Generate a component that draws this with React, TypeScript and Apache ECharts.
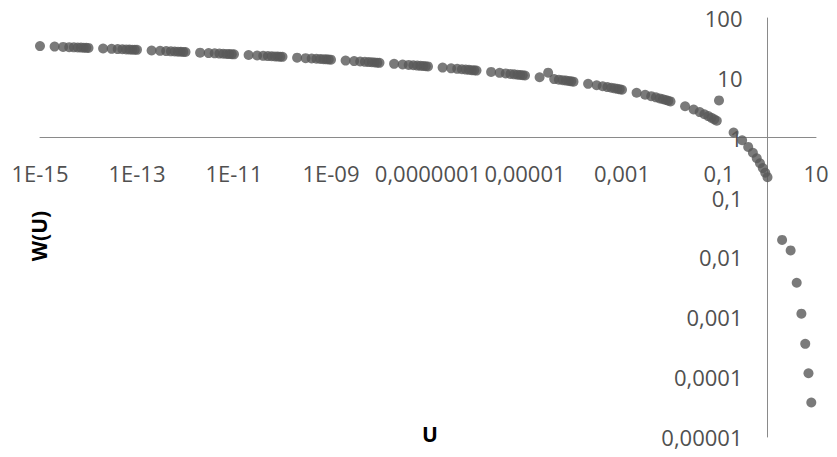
import { useEffect, useRef } from 'react';
import * as echarts from 'echarts';

// u values: k x 10^n
const uValues = [
  1e-15, 2e-15, 3e-15, 4e-15, 5e-15, 6e-15, 7e-15, 8e-15, 9e-15,
  1e-14, 2e-14, 3e-14, 4e-14, 5e-14, 6e-14, 7e-14, 8e-14, 9e-14,
  1e-13, 2e-13, 3e-13, 4e-13, 5e-13, 6e-13, 7e-13, 8e-13, 9e-13,
  1e-12, 2e-12, 3e-12, 4e-12, 5e-12, 6e-12, 7e-12, 8e-12, 9e-12,
  1e-11, 2e-11, 3e-11, 4e-11, 5e-11, 6e-11, 7e-11, 8e-11, 9e-11,
  1e-10, 2e-10, 3e-10, 4e-10, 5e-10, 6e-10, 7e-10, 8e-10, 9e-10,
  1e-9, 2e-9, 3e-9, 4e-9, 5e-9, 6e-9, 7e-9, 8e-9, 9e-9,
  1e-8, 2e-8, 3e-8, 4e-8, 5e-8, 6e-8, 7e-8, 8e-8, 9e-8,
  1e-7, 2e-7, 3e-7, 4e-7, 5e-7, 6e-7, 7e-7, 8e-7, 9e-7,
  1e-6, 2e-6, 3e-6, 4e-6, 5e-6, 6e-6, 7e-6, 8e-6, 9e-6,
  1e-5, 2e-5, 3e-5, 4e-5, 5e-5, 6e-5, 7e-5, 8e-5, 9e-5,
  1e-4, 2e-4, 3e-4, 4e-4, 5e-4, 6e-4, 7e-4, 8e-4, 9e-4,
  1e-3, 2e-3, 3e-3, 4e-3, 5e-3, 6e-3, 7e-3, 8e-3, 9e-3,
  0.01, 0.02, 0.03, 0.04, 0.05, 0.06, 0.07, 0.08, 0.09,
  0.1, 0.2, 0.3, 0.4, 0.5, 0.6, 0.7, 0.8, 0.9,
  1, 2, 3, 4, 5, 6, 7, 8,
];

// W(u) values
const wValues = [
  33.96, 33.27, 32.86, 32.58, 32.35, 32.17, 32.02, 31.88, 31.76,
  31.66, 30.97, 30.56, 30.27, 30.05, 29.87, 29.71, 29.58, 29.46,
  29.36, 28.66, 28.26, 27.97, 27.75, 27.56, 27.41, 27.28, 27.16,
  27.05, 26.36, 25.96, 25.67, 25.44, 25.26, 25.11, 24.97, 24.86,
  24.75, 24.06, 23.65, 23.36, 23.14, 22.96, 22.81, 22.67, 22.55,
  22.45, 21.76, 21.35, 21.06, 20.84, 20.66, 20.5, 20.37, 20.25,
  20.15, 19.45, 19.05, 18.76, 18.54, 18.35, 18.2, 18.07, 17.95,
  17.84, 17.15, 16.74, 16.46, 16.23, 16.05, 15.9, 15.76, 15.65,
  15.54, 14.85, 14.44, 14.15, 13.93, 13.75, 13.6, 13.46, 13.34,
  13.24, 12.55, 12.14, 11.85, 11.63, 11.45, 11.29, 11.16, 11.04,
  10.94, 10.24, 12.2, 9.55, 9.33, 9.14, 8.99, 8.86, 8.74,
  8.63, 7.94, 7.53, 7.25, 7.02, 6.84, 6.69, 6.55, 6.44,
  6.33, 5.64, 5.23, 4.95, 4.73, 4.54, 4.39, 4.26, 4.14,
  4.04, 3.35, 2.96, 2.68, 2.47, 2.3, 2.15, 2.03, 1.92,
  4.2, 1.22, 0.906, 0.702, 0.56, 0.454, 0.374, 0.311, 0.26,
  0.219, 0.0196, 0.0131, 0.00378, 0.00115, 0.00036, 0.000116, 0.0000377,
];

const xTickExponents = [-15, -13, -11, -9, -7, -5, -3, -1, 1];
const xTickLabels = ['1E-15', '1E-13', '1E-11', '1E-09', '0,0000001', '0,00001', '0,001', '0,1', '10'];
const yTickExponents = [2, 1, 0, -1, -2, -3, -4, -5];
const yTickLabels = ['100', '10', '1', '0,1', '0,01', '0,001', '0,0001', '0,00001'];

const xTitle = 'U';
const yTitle = 'W(U)';

const FONT = '"Open Sans", "Noto Sans", sans-serif';

export default function App() {
  const ref = useRef<HTMLDivElement>(null);
  useEffect(() => {
    if (!ref.current) return;
    const chart = echarts.init(ref.current, undefined, { renderer: 'svg' });
    const W = 837;
    const H = 457;
    const gLeft = 40;
    const gRight = 21;
    const gTop = 18;
    const gBottom = 20;
    const gW = W - gLeft - gRight;
    const gH = H - gTop - gBottom;
    // position of value 1 on each axis
    const xOne = gLeft + gW * (15 / 16);
    const yOne = gTop + gH * (2 / 7);

    const labelFmt = (exps: number[], labels: string[]) => (v: number) => {
      const e = Math.round(Math.log10(v));
      const i = exps.indexOf(e);
      return i >= 0 ? labels[i] : '';
    };

    chart.setOption({
      animation: false,
      backgroundColor: '#ffffff',
      grid: { left: gLeft, right: gRight, top: gTop, bottom: gBottom, containLabel: false },
      xAxis: {
        type: 'log',
        logBase: 10,
        min: 1e-15,
        max: 10,
        interval: 2,
        position: 'bottom',
        offset: -(H - gBottom - yOne),
        axisLine: { show: true, lineStyle: { color: '#8a8a8a', width: 1 } },
        axisTick: { show: false },
        splitLine: { show: false },
        minorTick: { show: false },
        axisLabel: {
          margin: 24,
          color: '#505050',
          fontSize: 22,
          fontFamily: FONT,
          formatter: labelFmt(xTickExponents, xTickLabels),
        },
      },
      yAxis: {
        type: 'log',
        logBase: 10,
        min: 1e-5,
        max: 100,
        interval: 1,
        position: 'left',
        offset: -(xOne - gLeft),
        axisLine: { show: true, lineStyle: { color: '#8a8a8a', width: 1 } },
        axisTick: { show: false },
        splitLine: { show: false },
        minorTick: { show: false },
        axisLabel: {
          margin: 25,
          color: '#505050',
          fontSize: 22,
          fontFamily: FONT,
          formatter: labelFmt(yTickExponents, yTickLabels),
        },
      },
      graphic: [
        {
          type: 'text',
          x: 39,
          y: 236,
          rotation: Math.PI / 2,
          style: {
            text: yTitle,
            font: `bold 21px ${FONT}`,
            fill: '#000000',
            align: 'center',
            verticalAlign: 'middle',
          },
        },
        {
          type: 'text',
          x: 430,
          y: 434,
          style: {
            text: xTitle,
            font: `bold 21px ${FONT}`,
            fill: '#000000',
            align: 'center',
            verticalAlign: 'middle',
          },
        },
      ],
      series: [
        {
          type: 'scatter',
          symbol: 'circle',
          symbolSize: 10,
          itemStyle: { color: '#595959' },
          data: uValues.map((u, i) => [u, wValues[i]]),
          clip: false,
        },
      ],
    });
    return () => chart.dispose();
  }, []);
  return <div ref={ref} style={{ position: 'fixed', left: 0, top: 0, width: 837, height: 457 }} />;
}
